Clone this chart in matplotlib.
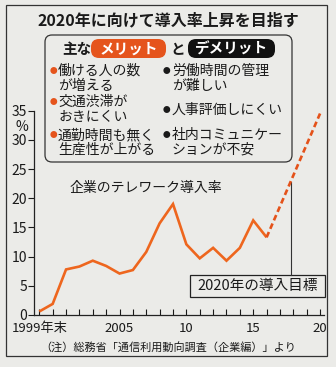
import matplotlib
matplotlib.use('Agg')
import matplotlib.pyplot as plt
from matplotlib.patches import FancyBboxPatch, Rectangle

plt.rcParams['font.family'] = ['Noto Sans CJK JP', 'DejaVu Sans']

# ——— data ———
years = [1999, 2000, 2001, 2002, 2003, 2004, 2005, 2006, 2007, 2008,
         2009, 2010, 2011, 2012, 2013, 2014, 2015, 2016]
rate = [0.6, 1.9, 7.8, 8.3, 9.3, 8.4, 7.1, 7.7, 10.8, 15.7,
        19.0, 12.1, 9.7, 11.5, 9.3, 11.5, 16.2, 13.3]
target_years = [2016, 2020]
target_rate = [13.3, 34.5]

x_ticks = list(range(1999, 2021))
x_labels = {1999: '1999年末', 2005: '2005', 2010: '10', 2015: '15', 2020: '20'}
y_ticks = [0, 5, 10, 15, 20, 25, 30, 35]

title = '2020年に向けて導入率上昇を目指す'
merits = ['働ける人の数\nが増える', '交通渋滞が\nおきにくい', '通勤時間も無く\n生産性が上がる']
demerits = ['労働時間の管理\nが難しい', '人事評価しにくい', '社内コミュニケー\nションが不安']
series_label = '企業のテレワーク導入率'
target_label = '2020年の導入目標'
note = '（注）総務省「通信利用動向調査（企業編）」より'

# ——— style ———
W, H = 336, 367
BG = '#ebebe8'
LINE_COLOR = '#ee661e'
TARGET_COLOR = '#e4521a'
MERIT_COLOR = '#e5541c'
INK = '#1a1a1a'

fig = plt.figure(figsize=(W / 100, H / 100), dpi=100, facecolor=BG)

# overlay in pixel coordinates for the boxes and free text
ov = fig.add_axes([0, 0, 1, 1])
ov.set_xlim(0, W)
ov.set_ylim(H, 0)
ov.axis('off')

# outer frame
ov.add_patch(Rectangle((6, 5), 321, 351, fill=False, edgecolor='#333333', linewidth=0.9))

ov.text(168, 20, title, ha='center', va='center', fontsize=11.5, fontweight='bold', color=INK)

# merits / demerits box
ov.add_patch(FancyBboxPatch((45, 35), 247, 127, boxstyle='round,pad=0,rounding_size=7',
                            fill=False, edgecolor='#333333', linewidth=0.9))
ov.text(62, 49, '主な', ha='left', va='center', fontsize=10.5, fontweight='bold', color=INK)
ov.add_patch(FancyBboxPatch((91, 39), 75, 19, boxstyle='round,pad=0,rounding_size=8',
                            facecolor=MERIT_COLOR, edgecolor='none'))
ov.text(128.5, 48.5, 'メリット', ha='center', va='center', fontsize=10.5,
        fontweight='bold', color='white')
ov.text(178, 49, 'と', ha='center', va='center', fontsize=10.5, fontweight='bold', color=INK)
ov.add_patch(FancyBboxPatch((188, 39), 87, 19, boxstyle='round,pad=0,rounding_size=8',
                            facecolor='#111111', edgecolor='none'))
ov.text(231.5, 48.5, 'デメリット', ha='center', va='center', fontsize=10.5,
        fontweight='bold', color='white')

left_rows = [71, 102, 135]
right_rows = [71, 110, 135]
for item, y in zip(merits, left_rows):
    ov.text(53, y, '●', ha='center', va='center', fontsize=5.5, color=MERIT_COLOR)
    for k, part in enumerate(item.split('\n')):
        ov.text(58, y + 15 * k, part, ha='left', va='center', fontsize=10, color=INK)
for item, y in zip(demerits, right_rows):
    ov.text(166, y, '●', ha='center', va='center', fontsize=5.5, color=INK)
    for k, part in enumerate(item.split('\n')):
        ov.text(172, y + 15 * k, part, ha='left', va='center', fontsize=10, color=INK)

ov.text(70, 188, series_label, ha='left', va='center', fontsize=10, color=INK)
ov.text(22, 127, '%', ha='center', va='center', fontsize=10, color=INK)

# target label box
ov.add_patch(Rectangle((190, 275), 135, 22, facecolor=BG, edgecolor='#222222', linewidth=0.9))
ov.text(257.5, 286, target_label, ha='center', va='center', fontsize=10.5, color=INK)

ov.text(168, 347, note, ha='center', va='center', fontsize=8, color=INK)

# ——— main chart ———
x0, x1 = 34, 324
y_top, y_bot = 110.6, 315
ax = fig.add_axes([x0 / W, 1 - y_bot / H, (x1 - x0) / W, (y_bot - y_top) / H])
ax.set_facecolor('none')

px_per_year = 13.37
xmin = 1999 - (39.3 - x0) / px_per_year
xmax = xmin + (x1 - x0) / px_per_year
ax.set_xlim(xmin, xmax)
ax.set_ylim(0, 35)

ax.plot(years, rate, color=LINE_COLOR, linewidth=1.9, solid_joinstyle='miter',
        solid_capstyle='butt', zorder=3)
ax.plot(target_years, target_rate, color=TARGET_COLOR, linewidth=1.9,
        dashes=(2.2, 1.3), zorder=3)

# leader line from the target line down to its label
leader_year = 2017.8
leader_top = target_rate[0] + (leader_year - target_years[0]) / (target_years[1] - target_years[0]) \
    * (target_rate[1] - target_rate[0])
leader_bottom = (y_bot - 275) / (y_bot - y_top) * 35
ax.plot([leader_year, leader_year], [leader_bottom, leader_top], color='#333333',
        linewidth=0.8, zorder=2)

for side in ['top', 'right']:
    ax.spines[side].set_visible(False)
for side in ['left', 'bottom']:
    ax.spines[side].set_linewidth(0.9)
    ax.spines[side].set_color('#222222')

ax.set_xticks(x_ticks)
ax.set_xticklabels([x_labels.get(y, '') for y in x_ticks])
ax.set_yticks(y_ticks)
ax.tick_params(axis='x', direction='in', length=4, width=0.8, pad=5.3, labelsize=9.5,
               colors=INK)
ax.tick_params(axis='y', direction='out', length=4, width=0.8, pad=1, labelsize=10,
               colors=INK)

fig.savefig('out.png', dpi=100, facecolor=BG)
